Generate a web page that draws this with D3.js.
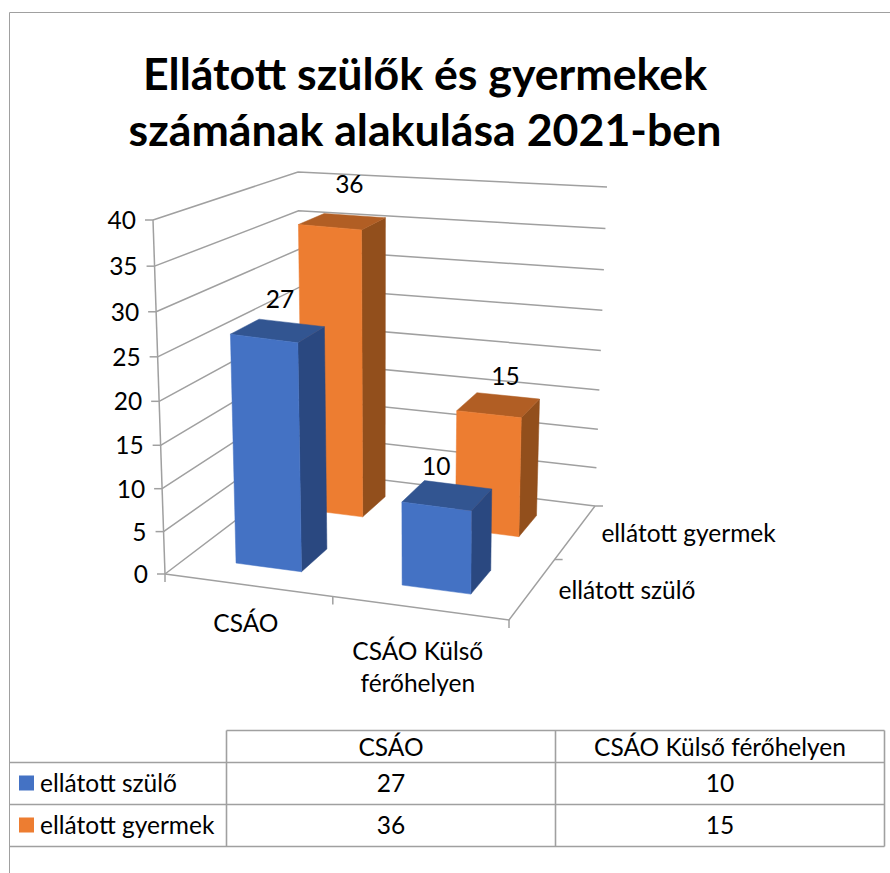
<!DOCTYPE html>
<html>
<head>
<meta charset="utf-8">
<script src="https://cdn.jsdelivr.net/npm/d3@7"></script>
<style>
  html, body { margin: 0; padding: 0; background: #fff; }
  text { font-family: Lato, "Open Sans", sans-serif; fill: #000; }
</style>
</head>
<body>
<div id="chart"></div>
<script>
// data
const categories = ['CSÁO', 'CSÁO Külső férőhelyen'];
const categoryLines = [['CSÁO'], ['CSÁO Külső', 'férőhelyen']];
const seriesNames = ['ellátott szülő', 'ellátott gyermek'];
const szuloValues = [27, 10];
const gyermekValues = [36, 15];
const titleLines = ['Ellátott szülők és gyermekek', 'számának alakulása 2021-ben'];

const width = 890, height = 873;
const grey = '#a0a0a0';
const fontSize = 24.5;

const colors = {
  'ellátott szülő': {front: '#4472c4', top: '#325591', side: '#2a4880'},
  'ellátott gyermek': {front: '#ed7d31', top: '#b15e24', side: '#924f1c'}
};

const svg = d3.select('#chart').append('svg')
  .attr('width', width)
  .attr('height', height)
  .style('display', 'block');

// the box of the 3d plot as it lands on the page, [bottom, top] per vertical edge
const box = {
  frontLeft: [[165, 574], [153, 220]],
  frontRight: [[509, 620], [512, 270]],
  backLeft: [[302, 470], [298, 172]],
  backRight: [[595, 506], [607, 187]]
};

const valueScale = d3.scaleLinear().domain([0, 40]).range([0, 1]);

// gap width / gap depth 150%
const catScale = d3.scaleBand().domain(categories).range([0, 1]).paddingInner(0.6).paddingOuter(0.3);
const depthScale = d3.scaleBand().domain(seriesNames).range([0, 1]).paddingInner(0.6).paddingOuter(0.3);

const mix = (a, b, t) => [a[0] + (b[0] - a[0]) * t, a[1] + (b[1] - a[1]) * t];
// foreshortening along one box edge
const warp = (t, k) => t / (t + k * (1 - t));

// u across the categories, v into the depth, w up the value axis (all 0..1)
function project(u, v, w) {
  const uu = warp(u, 1.05), vv = warp(v, 0.885), ww = warp(w, 1.05);
  const fl = mix(box.frontLeft[0], box.frontLeft[1], ww);
  const fr = mix(box.frontRight[0], box.frontRight[1], ww);
  const bl = mix(box.backLeft[0], box.backLeft[1], ww);
  const br = mix(box.backRight[0], box.backRight[1], ww);
  return mix(mix(fl, fr, uu), mix(bl, br, uu), vv);
}

const polyLine = d3.line();
const plot = svg.append('g').attr('class', 'plot');

function strokeLine(g, pts, sw) {
  g.append('path')
    .attr('d', polyLine(pts))
    .attr('fill', 'none')
    .attr('stroke', grey)
    .attr('stroke-width', sw || 1.5);
}

// outer frame of the chart area
strokeLine(svg, [[9.5, height], [9.5, 12.5], [width, 12.5]], 1);

// walls: gridline runs front-left -> back-left -> back-right
const grid = plot.append('g').attr('class', 'grid');
valueScale.ticks(8).forEach(t => {
  const w = valueScale(t);
  strokeLine(grid, [project(0, 0, w), project(0, 1, w), project(1, 1, w)]);
});
// value axis and its ticks
strokeLine(grid, [project(0, 0, 0), project(0, 0, 1)]);
const tickLabels = plot.append('g').attr('class', 'value-labels');
valueScale.ticks(8).forEach(t => {
  const p = project(0, 0, valueScale(t));
  strokeLine(grid, [p, [p[0] - 8, p[1]]]);
  tickLabels.append('text')
    .attr('x', p[0] - 17)
    .attr('y', p[1] + 9)
    .attr('text-anchor', 'end')
    .attr('font-size', fontSize)
    .text(t);
});

// floor edges and ticks
strokeLine(grid, [project(0, 0, 0), project(1, 0, 0), project(1, 1, 0)]);
[0, 0.5, 1].forEach(u => {
  const p = project(u, 0, 0);
  strokeLine(grid, [p, [p[0], p[1] + 8]]);
});
[0.5, 1].forEach(v => {
  const p = project(1, v, 0);
  strokeLine(grid, [p, [p[0] + 8, p[1]]]);
});

// bars, back row first so the front row sits on top
const rows = [
  {name: seriesNames[1], values: gyermekValues},
  {name: seriesNames[0], values: szuloValues}
];
const labelNudge = {
  'ellátott szülő': [[2, -23], [-11, -20]],
  'ellátott gyermek': [[7, -28], [7, -20]]
};
const bars = plot.append('g').attr('class', 'bars');
const dataLabels = [];

rows.forEach(row => {
  row.values.forEach((val, i) => {
    const u0 = catScale(categories[i]), u1 = u0 + catScale.bandwidth();
    const v0 = depthScale(row.name), v1 = v0 + depthScale.bandwidth();
    const w = valueScale(val);
    const c = colors[row.name];
    const g = bars.append('g');
    const face = (pts, fill) => g.append('path')
      .attr('d', polyLine(pts) + 'Z')
      .attr('fill', fill)
      .attr('stroke', fill)
      .attr('stroke-width', 0.5);
    face([project(u1, v0, 0), project(u1, v1, 0), project(u1, v1, w), project(u1, v0, w)], c.side);
    face([project(u0, v0, w), project(u1, v0, w), project(u1, v1, w), project(u0, v1, w)], c.top);
    face([project(u0, v0, 0), project(u1, v0, 0), project(u1, v0, w), project(u0, v0, w)], c.front);
    const p = project((u0 + u1) / 2, (v0 + v1) / 2, w);
    const n = labelNudge[row.name][i];
    dataLabels.push({x: p[0] + n[0], y: p[1] + n[1], t: val});
  });
});

plot.append('g').attr('class', 'data-labels')
  .selectAll('text')
  .data(dataLabels)
  .join('text')
  .attr('x', d => d.x)
  .attr('y', d => d.y)
  .attr('text-anchor', 'middle')
  .attr('font-size', fontSize)
  .text(d => d.t);

// category labels under the front edge
categories.forEach((cat, i) => {
  const p = project(catScale(cat) + catScale.bandwidth() / 2, 0, 0);
  categoryLines[i].forEach((line, j) => {
    plot.append('text')
      .attr('x', p[0] - 2)
      .attr('y', p[1] + (i === 0 ? 47 : 52) + j * 32)
      .attr('text-anchor', 'middle')
      .attr('font-size', fontSize)
      .text(line);
  });
});

// series labels along the right floor edge
seriesNames.forEach(name => {
  const p = project(1, depthScale(name) + depthScale.bandwidth() / 2, 0);
  plot.append('text')
    .attr('x', p[0] + 26)
    .attr('y', p[1] + 10)
    .attr('font-size', fontSize)
    .text(name);
});

// title
svg.append('g').attr('class', 'title')
  .selectAll('text')
  .data(titleLines)
  .join('text')
  .attr('x', 425)
  .attr('y', (d, i) => 90 + i * 56)
  .attr('text-anchor', 'middle')
  .attr('font-size', 44.7)
  .attr('font-weight', 700)
  .text(d => d);

// data table
const colX = [9.5, 226.5, 555.5, 884.5];
const rowY = [730.5, 762.5, 804.5, 846.5];
const table = svg.append('g').attr('class', 'table');

strokeLine(table, [[colX[1], rowY[0]], [colX[3], rowY[0]]], 1.6);
rowY.slice(1).forEach(y => strokeLine(table, [[colX[0], y], [colX[3], y]], 1.6));
colX.slice(1).forEach(x => strokeLine(table, [[x, rowY[0]], [x, rowY[3]]], 1.6));

categories.forEach((cat, i) => {
  table.append('text')
    .attr('x', (colX[i + 1] + colX[i + 2]) / 2)
    .attr('y', rowY[0] + 25)
    .attr('text-anchor', 'middle')
    .attr('font-size', fontSize)
    .text(cat);
});

[szuloValues, gyermekValues].forEach((vals, r) => {
  const name = seriesNames[r];
  table.append('rect')
    .attr('x', 19)
    .attr('y', rowY[r + 1] + 13)
    .attr('width', 15)
    .attr('height', 15)
    .attr('fill', colors[name].front);
  table.append('text')
    .attr('x', 40)
    .attr('y', rowY[r + 1] + 29)
    .attr('font-size', fontSize)
    .text(name);
  vals.forEach((v, i) => {
    table.append('text')
      .attr('x', (colX[i + 1] + colX[i + 2]) / 2)
      .attr('y', rowY[r + 1] + 29)
      .attr('text-anchor', 'middle')
      .attr('font-size', fontSize)
      .text(v);
  });
});
</script>
</body>
</html>
